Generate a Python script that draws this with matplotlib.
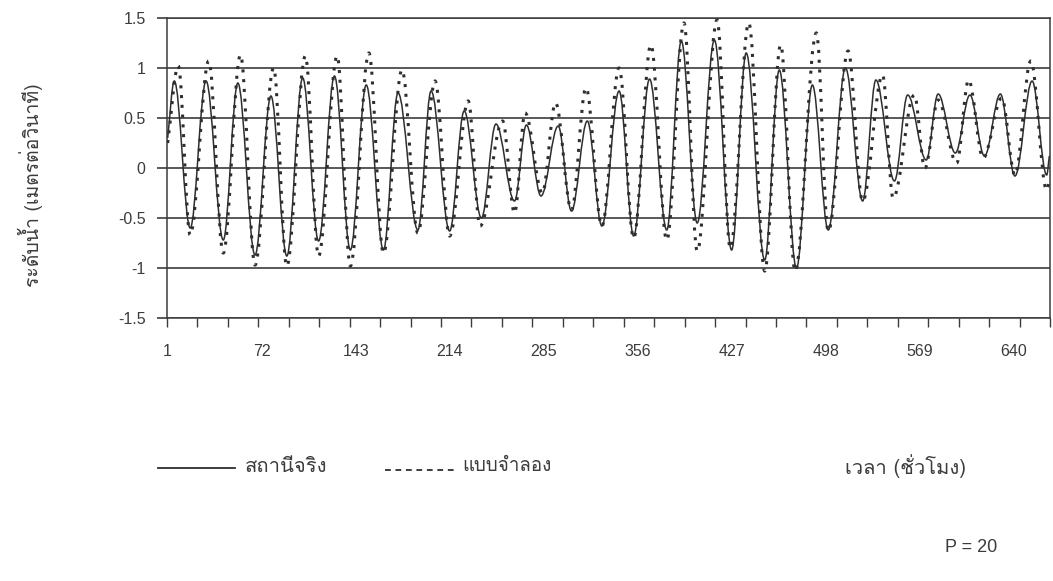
import matplotlib
matplotlib.use("Agg")
import matplotlib.pyplot as plt
from matplotlib.lines import Line2D
from matplotlib.path import Path
from matplotlib.patches import PathPatch

# hourly water level, turning points (hour, metre)
obs_hour = [1, 6, 18, 30, 43, 54, 67, 79, 91, 103, 115, 127, 139, 151, 164, 175, 190,
            200, 214, 225, 238, 249, 263, 272, 283, 296, 306, 318, 329, 342, 353, 365,
            378, 389, 401, 414, 427, 438, 452, 463, 476, 488, 500, 513, 526, 536, 550,
            560, 574, 583, 596, 607, 618, 630, 641, 654, 665, 667]
obs_level = [0.30, 0.87, -0.60, 0.87, -0.72, 0.85, -0.87, 0.72, -0.88, 0.90, -0.73,
             0.92, -0.82, 0.83, -0.82, 0.75, -0.62, 0.77, -0.63, 0.57, -0.50, 0.44,
             -0.33, 0.43, -0.28, 0.42, -0.43, 0.47, -0.58, 0.77, -0.68, 0.89, -0.62,
             1.27, -0.55, 1.28, -0.82, 1.15, -0.92, 0.98, -1.00, 0.83, -0.62, 1.00,
             -0.33, 0.88, -0.13, 0.73, 0.08, 0.74, 0.15, 0.73, 0.12, 0.74, -0.08,
             0.87, -0.07, 0.12]

model_hour = [1, 9, 18, 32, 43, 56, 67, 81, 91, 105, 115, 129, 139, 153, 164, 178, 190,
              203, 214, 228, 237, 254, 263, 271, 284, 294, 306, 317, 329, 342, 353, 366,
              378, 391, 401, 416, 426, 440, 452, 464, 475, 491, 500, 515, 526, 541, 549,
              565, 573, 583, 597, 606, 617, 631, 641, 653, 665, 667]
model_level = [0.25, 1.02, -0.67, 1.07, -0.85, 1.13, -0.97, 1.00, -0.98, 1.12, -0.88,
               1.12, -0.98, 1.15, -0.85, 0.98, -0.65, 0.87, -0.68, 0.67, -0.58, 0.47,
               -0.45, 0.55, -0.25, 0.65, -0.42, 0.80, -0.58, 1.00, -0.70, 1.23, -0.72,
               1.45, -0.83, 1.48, -0.80, 1.45, -1.03, 1.23, -1.03, 1.35, -0.63, 1.17,
               -0.33, 0.93, -0.30, 0.73, 0.00, 0.68, 0.05, 0.88, 0.10, 0.70, -0.07,
               1.07, -0.22, -0.12]

n_hours = 667
x_labels = [1, 72, 143, 214, 285, 356, 427, 498, 569, 640]
y_ticks = [-1.5, -1, -0.5, 0, 0.5, 1, 1.5]
y_labels = ["-1.5", "-1", "-0.5", "0", "0.5", "1", "1.5"]


def smooth_path(hours, levels, k=0.36):
    # smoothed line (like Excel's smoothed line option): cubic Bezier pieces,
    # flat tangent at each turning point, chord tangent at the two ends
    verts = [(hours[0], levels[0])]
    codes = [Path.MOVETO]
    last = len(hours) - 2
    for i in range(len(hours) - 1):
        h0, v0, h1, v1 = hours[i], levels[i], hours[i + 1], levels[i + 1]
        d = (h1 - h0) * k
        c1 = (h0 + d, v0 + (v1 - v0) * k if i == 0 else v0)
        c2 = (h1 - d, v1 - (v1 - v0) * k if i == last else v1)
        verts += [c1, c2, (h1, v1)]
        codes += [Path.CURVE4] * 3
    return Path(verts, codes)


thai = ['Loma', 'Noto Sans Thai Looped', 'DejaVu Sans']
plt.rcParams['font.family'] = ['Liberation Sans', 'Loma', 'DejaVu Sans']
plt.rcParams['axes.unicode_minus'] = False

W, H = 1053, 581
fig = plt.figure(figsize=(W / 100, H / 100), dpi=100)
ink = '#3c3c3c'
line_col = '#2e2e2e'

ax = fig.add_axes([167 / W, 1 - 318 / H, (1050 - 167) / W, 300 / H])
ax.add_patch(PathPatch(smooth_path(obs_hour, obs_level), fill=False, ec=line_col,
                       lw=1.1, zorder=3))
ax.add_patch(PathPatch(smooth_path(model_hour, model_level), fill=False, ec=line_col,
                       lw=2.2, ls=(0, (1.0, 2.2)), zorder=3))

ax.set_xlim(0.5, n_hours + 0.5)
ax.set_ylim(-1.5, 1.5)
ax.set_yticks(y_ticks, labels=y_labels)
ax.yaxis.grid(True, color=ink, lw=1.2)
ax.set_axisbelow(True)

# Excel style: tick marks every 23 hours, labels every 71
ax.set_xticks([0.5 + 23 * k for k in range(30)], labels=[])
ax.set_xticks(x_labels, labels=[str(v) for v in x_labels], minor=True)
ax.tick_params(axis='x', which='major', length=6.5, width=1, color=ink)
ax.tick_params(axis='x', which='minor', length=0, pad=19, labelsize=11.5, labelcolor=ink)
ax.tick_params(axis='y', length=7.4, width=1.2, color=ink, pad=8, labelsize=11.5, labelcolor=ink)
for s in ax.spines.values():
    s.set_color(ink)
    s.set_linewidth(1.1)

fig.text(30 / W, 1 - 185 / H, "ระดับน้ำ (เมตรต่อวินาที)", rotation=90, ha='center',
         va='center', fontsize=14, color=ink, family=thai)

# legend drawn by hand
fig.add_artist(Line2D([158 / W, 235 / W], [1 - 468 / H, 1 - 468 / H], color=line_col,
                      lw=1.3, transform=fig.transFigure))
fig.text(245 / W, 1 - 466 / H, "สถานีจริง", ha='left', va='center', fontsize=14.5,
         color=ink, family=thai)
fig.add_artist(Line2D([385 / W, 455 / W], [1 - 470 / H, 1 - 470 / H], color=line_col,
                      lw=1.3, dashes=(3.2, 2.6), transform=fig.transFigure))
fig.text(462 / W, 1 - 466 / H, "แบบจำลอง", ha='left', va='center', fontsize=13.5,
         color=ink, family=thai)
fig.text(845 / W, 1 - 466 / H, "เวลา (ชั่วโมง)", ha='left', va='center', fontsize=14.5,
         color=ink, family=thai)
fig.text(945 / W, 1 - 547 / H, "P = 20", ha='left', va='center', fontsize=13, color=ink)

fig.savefig('out.png', dpi=100)
